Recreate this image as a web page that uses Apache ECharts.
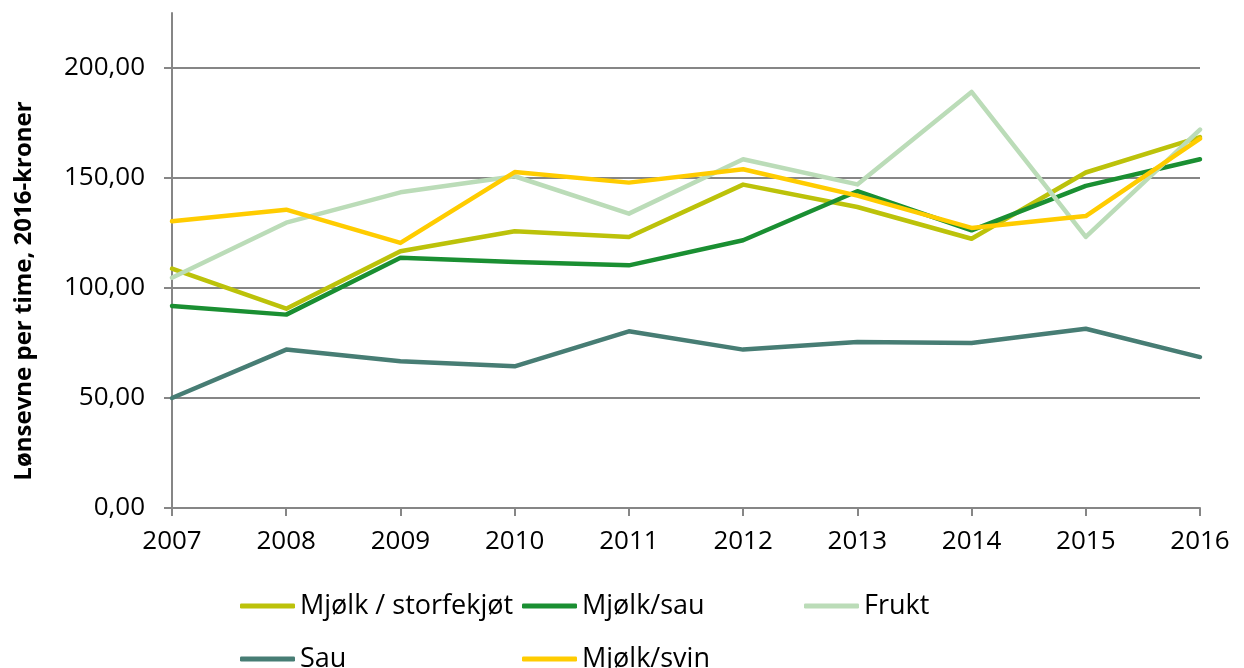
<!DOCTYPE html>
<html>
<head>
<meta charset="utf-8">
<script src="https://cdn.jsdelivr.net/npm/echarts@6/dist/echarts.min.js"></script>
<style>
  html, body { margin: 0; padding: 0; background: #fff; }
  #chart { width: 1244px; height: 668px; }
</style>
</head>
<body>
<div id="chart"></div>
<script>
var years = ['2007', '2008', '2009', '2010', '2011', '2012', '2013', '2014', '2015', '2016'];

var storfe = [108.8, 90.6, 116.7, 125.8, 123.2, 147.0, 136.8, 122.4, 152.5, 168.6];
var mjolkSau = [91.8, 87.9, 113.8, 111.8, 110.3, 121.7, 144.0, 126.2, 146.4, 158.5];
var frukt = [104.7, 129.7, 143.5, 150.8, 133.8, 158.5, 147.1, 189.1, 123.2, 172.0];
var sau = [50.0, 72.0, 66.7, 64.4, 80.3, 72.0, 75.5, 75.0, 81.5, 68.6];
var svin = [130.3, 135.6, 120.5, 152.7, 147.9, 154.0, 142.0, 127.3, 132.7, 167.9];

var names = ['Mjølk / storfekjøt', 'Mjølk/sau', 'Frukt', 'Sau', 'Mjølk/svin'];
var colors = ['#bcc20a', '#1a8f32', '#bbdcb8', '#477d74', '#ffcc00'];
var yTicks = [0, 50, 100, 150, 200];

var chart = echarts.init(document.getElementById('chart'));

var axisGray = '#868686';
var font = '"Open Sans", sans-serif';

function line(name, data, i) {
  return {
    name: name,
    type: 'line',
    xAxisIndex: 1,
    yAxisIndex: 1,
    data: data,
    symbol: 'none',
    color: colors[i],
    lineStyle: { width: 4.5, color: colors[i], join: 'round', cap: 'round' },
    animation: false
  };
}

var legendCommon = {
  left: 235,
  itemWidth: 55,
  itemHeight: 5,
  itemGap: 2,
  icon: 'roundRect',
  textStyle: { fontFamily: font, fontSize: 27, color: '#000', width: 220, lineHeight: 30 }
};

var option = {
  backgroundColor: '#fff',
  grid: [
    // only carries the tall y axis line
    { left: 172, right: 44, top: 13, bottom: 160, outerBoundsMode: 'none' },
    { left: 172, right: 44, top: 68, bottom: 160, outerBoundsMode: 'none' }
  ],
  legend: [
    Object.assign({ top: 586, data: names.slice(0, 3) }, legendCommon),
    Object.assign({ top: 639, data: names.slice(3) }, legendCommon)
  ],
  xAxis: [
    { gridIndex: 0, type: 'category', data: years, show: false },
    {
      gridIndex: 1,
      type: 'category',
      data: years,
      boundaryGap: false,
      axisLine: { lineStyle: { color: axisGray, width: 2 } },
      axisTick: { show: true, length: 8, lineStyle: { color: axisGray, width: 2 } },
      axisLabel: { color: '#000', fontFamily: font, fontSize: 26, margin: 21 }
    }
  ],
  yAxis: [
    {
      gridIndex: 0,
      type: 'value',
      min: 0,
      max: 225,
      axisLine: { show: true, lineStyle: { color: axisGray, width: 2 } },
      axisTick: { show: false },
      axisLabel: { show: false },
      splitLine: { show: false }
    },
    {
      gridIndex: 1,
      type: 'value',
      min: yTicks[0],
      max: yTicks[yTicks.length - 1],
      interval: 50,
      name: 'Lønsevne per time, 2016-kroner',
      nameLocation: 'middle',
      nameRotate: 90,
      nameGap: 136,
      nameTextStyle: { fontFamily: font, fontSize: 24, fontWeight: 'bold', color: '#000', padding: [0, 6, 0, 0] },
      axisLine: { show: false },
      axisTick: { show: true, length: 8, lineStyle: { color: axisGray, width: 2 } },
      axisLabel: {
        color: '#000', fontFamily: font, fontSize: 26, margin: 27,
        formatter: function (v) { return v.toFixed(2).replace('.', ','); }
      },
      splitLine: { show: true, lineStyle: { color: axisGray, width: 2 } }
    }
  ],
  series: [
    line(names[0], storfe, 0),
    line(names[1], mjolkSau, 1),
    line(names[2], frukt, 2),
    line(names[3], sau, 3),
    line(names[4], svin, 4)
  ]
};

chart.setOption(option);
</script>
</body>
</html>
